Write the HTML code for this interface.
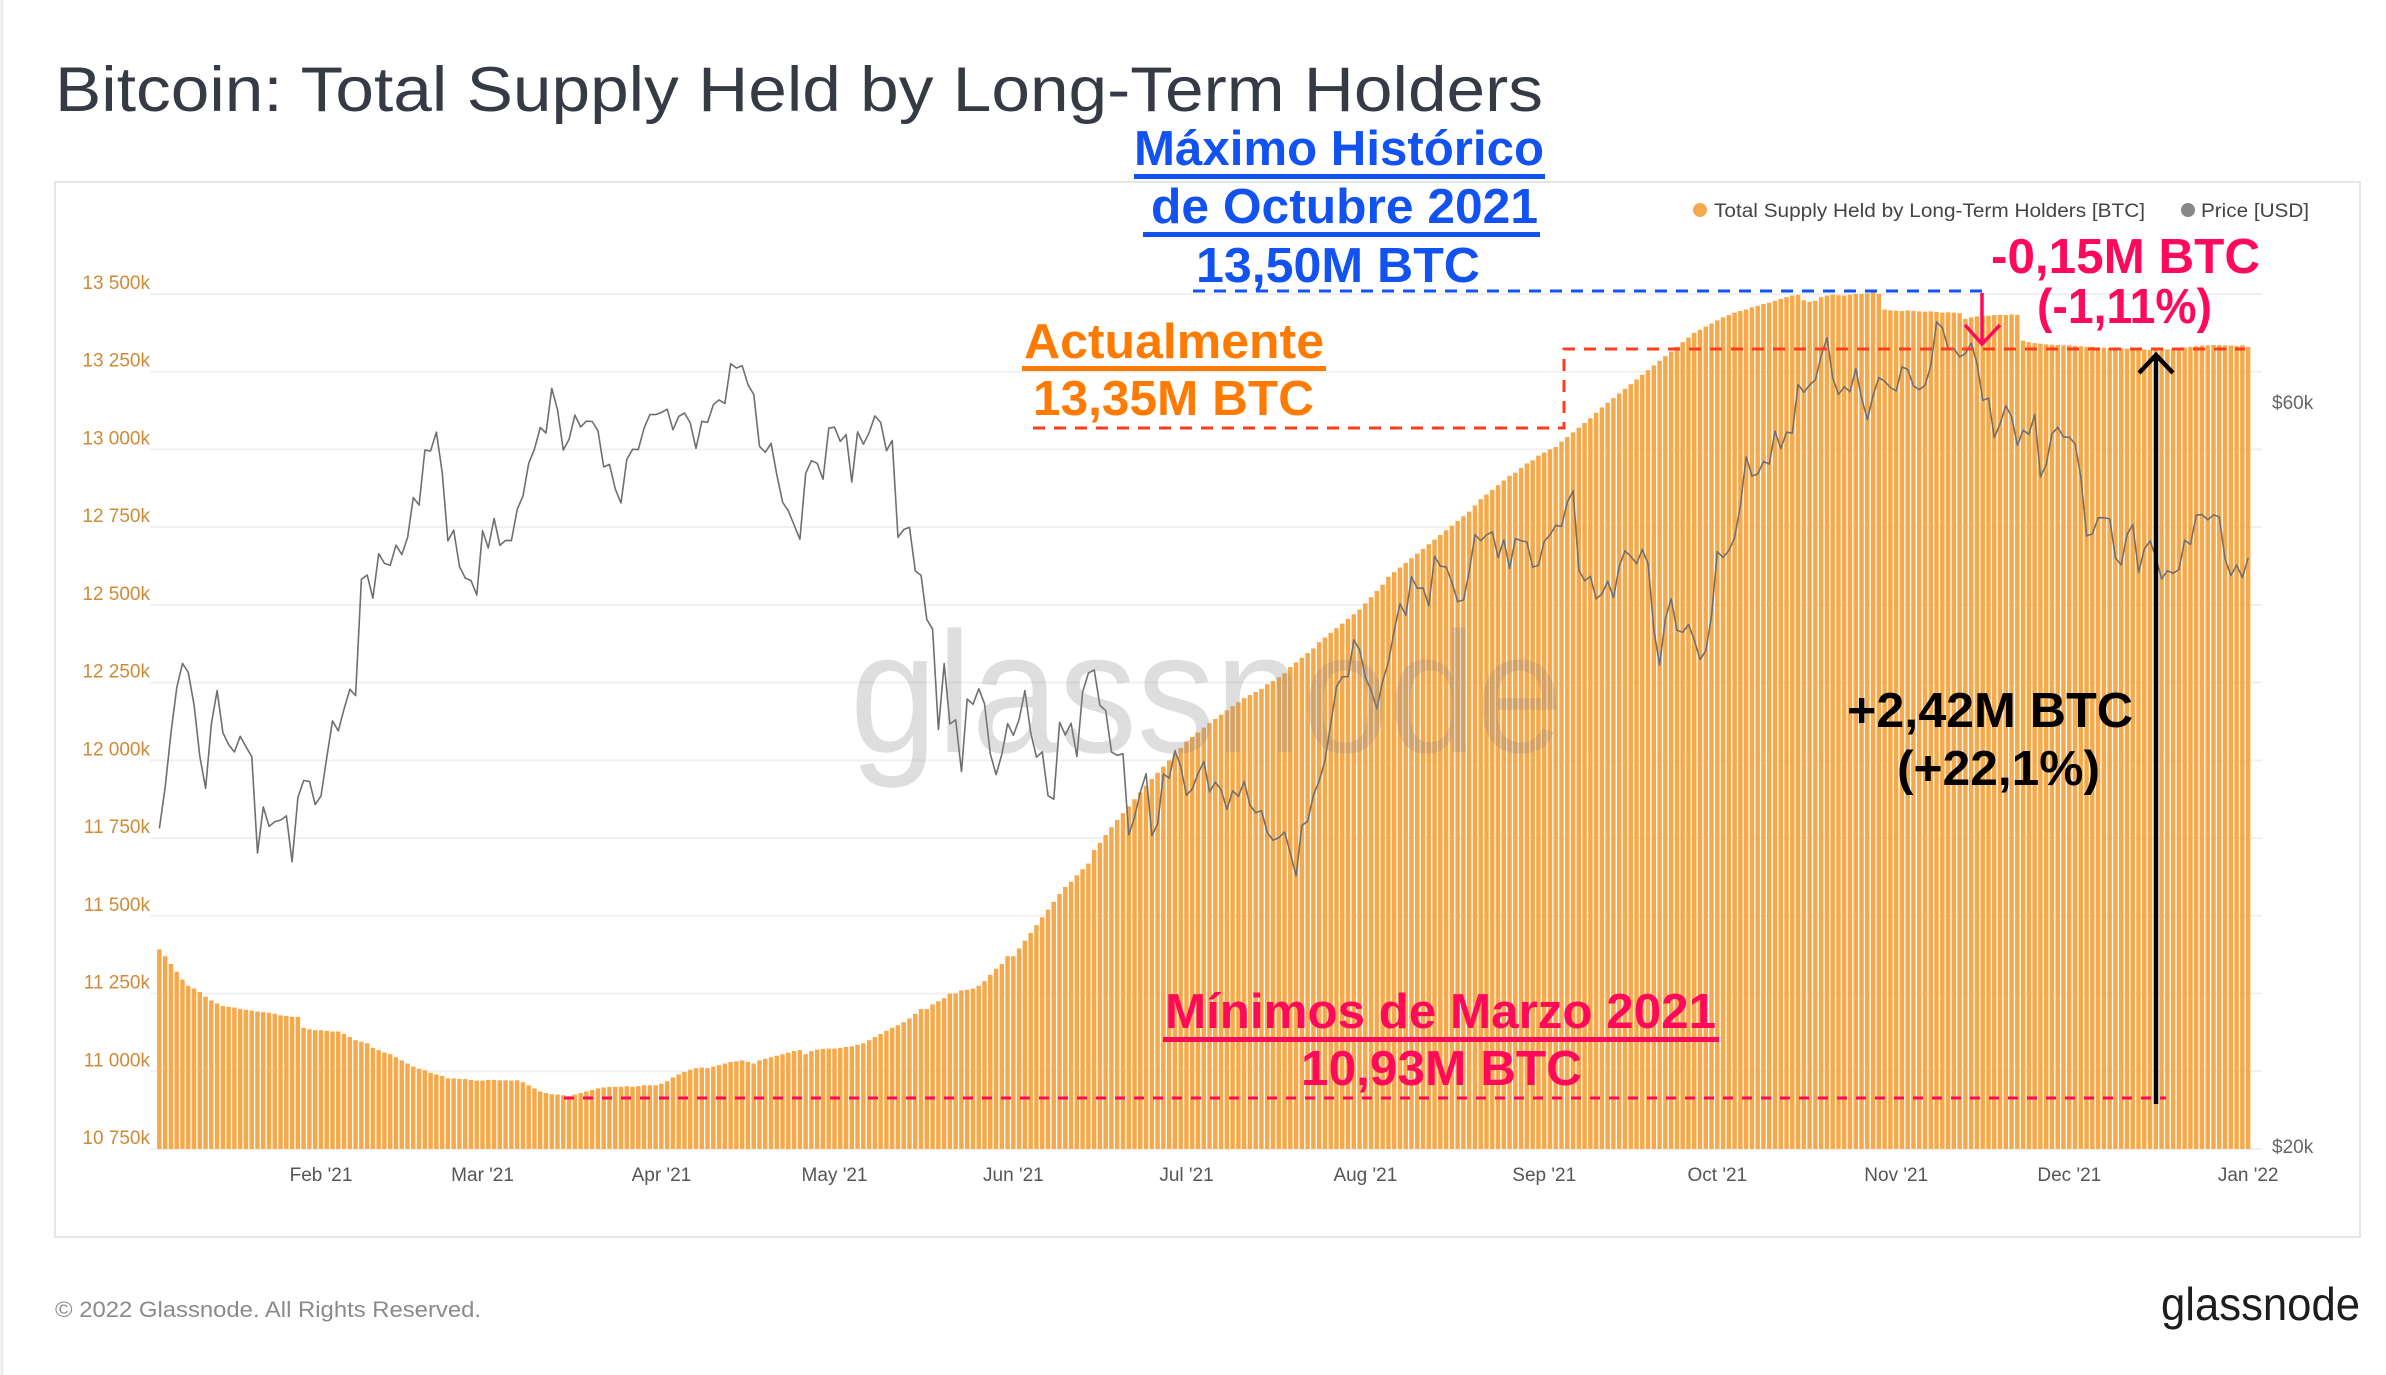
<!DOCTYPE html>
<html><head><meta charset="utf-8">
<style>
html,body{margin:0;padding:0;background:#fff;}
svg{display:block;font-family:"Liberation Sans",sans-serif;}
</style></head>
<body>
<svg id="chart" width="2386" height="1375" viewBox="0 0 2386 1375" xmlns="http://www.w3.org/2000/svg">
<rect x="0" y="0" width="2386" height="1375" fill="#fff"/>
<line x1="2" y1="0" x2="2" y2="1375" stroke="#ececec" stroke-width="3"/>
<text x="55" y="111" font-size="63" fill="#353a45" textLength="1488" lengthAdjust="spacingAndGlyphs">Bitcoin: Total Supply Held by Long-Term Holders</text>
<rect x="55" y="182" width="2305" height="1055" fill="none" stroke="#e6e6e6" stroke-width="2"/>
<g id="grid"></g>
<g id="bars"></g>
<g id="price"></g>
<g id="axes"></g>
<text x="850" y="752" font-size="172" fill="#8a8a8a" fill-opacity="0.28" textLength="713" lengthAdjust="spacingAndGlyphs">glassnode</text>

<g>
<circle cx="1700" cy="210" r="7" fill="#f6a94b"/>
<text x="1714" y="217" font-size="19" fill="#444" textLength="431" lengthAdjust="spacingAndGlyphs">Total Supply Held by Long-Term Holders [BTC]</text>
<circle cx="2188" cy="210" r="7" fill="#888"/>
<text x="2201" y="217" font-size="19" fill="#444" textLength="108" lengthAdjust="spacingAndGlyphs">Price [USD]</text>
</g>

<g font-weight="bold" fill="#1152f0">
<text x="1134" y="165" font-size="49" textLength="410" lengthAdjust="spacingAndGlyphs">Máximo Histórico</text>
<rect x="1134" y="174" width="411" height="5"/>
<text x="1151" y="223" font-size="49" textLength="387" lengthAdjust="spacingAndGlyphs">de Octubre 2021</text>
<rect x="1143" y="232" width="397" height="5"/>
<text x="1196" y="282" font-size="49" textLength="284" lengthAdjust="spacingAndGlyphs">13,50M BTC</text>
</g>
<line x1="1193" y1="291" x2="1985" y2="291" stroke="#1152f0" stroke-width="3" stroke-dasharray="12,9"/>

<g font-weight="bold" fill="#ff7a00">
<text x="1024" y="358" font-size="49" textLength="300" lengthAdjust="spacingAndGlyphs">Actualmente</text>
<rect x="1022" y="366" width="304" height="5"/>
<text x="1033" y="415" font-size="49" textLength="281" lengthAdjust="spacingAndGlyphs">13,35M BTC</text>
</g>
<path d="M1033 428 H1564 V349 H2245" fill="none" stroke="#ff3d1f" stroke-width="3" stroke-dasharray="12,9"/>

<g font-weight="bold" fill="#ff0a5a">
<text x="1991" y="273" font-size="49" textLength="269" lengthAdjust="spacingAndGlyphs">-0,15M BTC</text>
<text x="2037" y="323" font-size="49" textLength="175" lengthAdjust="spacingAndGlyphs">(-1,11%)</text>
</g>
<path d="M1982 293 V344 M1965 325 L1982 344 L2000 325" fill="none" stroke="#ff0a5a" stroke-width="3.5"/>

<path d="M2156 1104 V355 M2139 373 L2156 355 L2173 373" fill="none" stroke="#000" stroke-width="4.5"/>
<g font-weight="bold" fill="#000">
<text x="1847" y="727" font-size="49" textLength="286" lengthAdjust="spacingAndGlyphs">+2,42M BTC</text>
<text x="1897" y="785" font-size="49" textLength="203" lengthAdjust="spacingAndGlyphs">(+22,1%)</text>
</g>

<line x1="564" y1="1098" x2="2166" y2="1098" stroke="#ff0a5a" stroke-width="3" stroke-dasharray="10,9"/>
<g font-weight="bold" fill="#ff0a5a">
<text x="1165" y="1028" font-size="49" textLength="551" lengthAdjust="spacingAndGlyphs">Mínimos de Marzo 2021</text>
<rect x="1163" y="1037" width="556" height="5"/>
<text x="1301" y="1085" font-size="49" textLength="281" lengthAdjust="spacingAndGlyphs">10,93M BTC</text>
</g>

<text x="55" y="1317" font-size="22" fill="#8a8a8a" textLength="426" lengthAdjust="spacingAndGlyphs">© 2022 Glassnode. All Rights Reserved.</text>
<text x="2161" y="1320" font-size="46" fill="#1d1d1d" textLength="199" lengthAdjust="spacingAndGlyphs">glassnode</text>
</svg>
<script>
const startDay = 3;
const lthSupplyK = [
11392,11370,11345,11320,11295,11275,11266,11255,11240,11228,11218,11210,11207,11205,11200,11198,11195,11192,11190,11188,11185,11180,11178,11175,11175,11140,11135,11132,
11132,11130,11128,11128,11120,11110,11100,11095,11090,11075,11068,11060,11055,11045,11035,11025,11015,11008,11003,10995,10990,10985,10977,10977,10975,10975,10972,10970,
10970,10972,10972,10971,10971,10970,10971,10965,10955,10945,10935,10930,10926,10925,10923,10920,10925,10930,10935,10940,10945,10948,10950,10950,10950,10952,10950,10952,10955,10955,10955,
10960,10968,10980,10990,10998,11005,11010,11012,11010,11015,11020,11025,11030,11032,11035,11030,11025,11035,11040,11045,11050,11055,11060,11065,11068,11055,11065,11070,11072,11073,
11073,11075,11078,11080,11085,11090,11100,11110,11120,11130,11140,11148,11158,11170,11185,11200,11200,11215,11225,11235,11250,11250,11260,11262,11266,11275,11290,11310,11330,11345,11370,
11370,11395,11420,11445,11470,11495,11520,11545,11570,11593,11610,11630,11650,11668,11712,11735,11760,11785,11808,11830,11852,11875,11897,11918,11940,11960,11980,12000,12020,12040,
12060,12075,12090,12105,12120,12133,12147,12161,12174,12187,12200,12210,12220,12230,12245,12255,12267,12280,12300,12315,12330,12345,12360,12380,12395,12410,12425,12440,12455,12470,12485,
12505,12525,12545,12565,12590,12605,12620,12635,12650,12665,12680,12695,12710,12725,12740,12755,12770,12785,12800,12820,12840,12855,12870,12885,12900,12915,12925,12940,12955,12965,12980,
12990,13000,13008,13025,13040,13055,13070,13085,13100,13118,13135,13150,13165,13180,13195,13210,13225,13240,13255,13270,13285,13300,13315,13330,13345,13360,13375,13385,13395,13405,
13415,13425,13432,13440,13445,13450,13457,13462,13468,13472,13478,13484,13490,13495,13497,13480,13475,13478,13490,13495,13498,13496,13495,13498,13500,13500,13502,13505,13500,13450,13447,
13446,13445,13447,13446,13444,13443,13444,13442,13440,13441,13440,13438,13420,13425,13428,13430,13430,13432,13433,13432,13434,13433,13350,13345,13342,13340,13338,13337,13336,13335,
13335,13333,13332,13330,13330,13328,13327,13326,13325,13325,13324,13323,13322,13322,13320,13320,13321,13322,13324,13326,13328,13330,13332,13334,13335,13336,13336,13335,13334,13333,13335,
13330];
const priceUsd = [
31971,33992,36824,39371,40797,40254,38356,35566,33922,37316,39187,36825,36178,35792,36630,36069,35547,30825,33005,32067,32289,32366,32569,30432,33466,34316,34269,33114,
33537,35510,37472,36926,38144,39266,38903,46196,46481,44919,47969,47287,47153,48577,47911,49133,52119,51552,55906,55841,57412,54087,48891,49676,47073,46276,46106,45135,
49631,48378,50538,48561,48927,48912,51206,52246,54824,56008,57805,57332,61243,59302,55907,56804,58870,57858,58346,58313,57523,54529,54738,52774,51705,55137,55974,55947,57750,58917,58918,
59095,59384,57604,58758,59057,58192,56048,58323,58245,59793,60204,59893,63503,63109,63314,61572,60683,56216,55724,56473,53906,51762,51093,50050,49004,54021,55033,54824,53555,57750,
57828,56631,57200,53333,57424,56397,57356,58803,58232,55859,56704,49150,49716,49880,46760,46456,43537,42909,37002,40782,37304,37536,34770,38705,38402,39294,38436,35697,34616,35678,37332,
36684,37575,39187,36825,35520,35796,33552,33380,37389,36702,37334,35552,39097,40218,40406,38347,38053,35787,35615,35698,31676,32505,33723,34662,31637,32186,34649,34434,35867,35041,
33572,33897,34668,35287,33746,34235,33855,32877,33798,33520,34259,33086,32729,32820,31781,31421,31533,31796,30817,29807,32110,32313,33581,34292,35350,37337,39406,39995,40008,42235,41626,
39974,39201,38152,39747,40869,42816,44555,43798,46365,45585,45593,44428,47793,47096,47047,46004,44695,44801,46717,49339,48905,49321,49546,47706,48960,46942,49058,48897,48807,47025,47166,
48848,49327,50025,49944,51753,52633,46811,46091,46391,44883,45201,46063,44963,47092,48176,47783,47268,48278,47260,42844,40694,43574,44896,42840,42716,43208,42236,41034,41564,43790,
48116,47711,48199,49112,51515,55362,53805,53968,54969,54772,57485,56041,57401,57322,61593,60892,61553,62026,64262,65993,62210,60693,61394,60931,63039,60364,58482,60622,62228,61888,61319,
61004,63227,62970,61453,61125,61528,63327,67567,66972,64996,64950,64156,64470,65466,63557,60161,60368,56942,58120,59697,58731,56289,57570,57229,58933,53727,54722,57275,57807,57006,
56981,56420,53739,49252,49398,50584,50595,50505,47673,47185,49336,50090,46656,48299,48886,47688,46217,46773,46612,46862,48936,48628,50784,50822,50429,50809,50640,47588,46444,47178,46306,
47686];
const leftTicks = [10750,11000,11250,11500,11750,12000,12250,12500,12750,13000,13250,13500];
const leftTickLabels = ["10 750k","11 000k","11 250k","11 500k","11 750k","12 000k","12 250k","12 500k","12 750k","13 000k","13 250k","13 500k"];
const rightTicks = [20000,60000];
const rightTickLabels = ["$20k","$60k"];
const monthTickDays = [31,59,90,120,151,181,212,243,273,304,334,365];
const monthTickLabels = ["Feb '21","Mar '21","Apr '21","May '21","Jun '21","Jul '21","Aug '21","Sep '21","Oct '21","Nov '21","Dec '21","Jan '22"];

const NS = "http://www.w3.org/2000/svg";
const X0 = 321, D0 = 31, DAYPX = 5.77;
const xDay = d => X0 + (d - D0) * DAYPX;
const yLeft = v => 1149 - (v - 10750) / 250 * 77.73;
const yPrice = p => 1146 - Math.log(p / 20000) * 677;
const plotL = 150, plotR = 2262;

function mk(tag, attrs, parent){ const e=document.createElementNS(NS,tag); for(const k in attrs) e.setAttribute(k,attrs[k]); parent.appendChild(e); return e; }

const grid = document.getElementById('grid');
const axes = document.getElementById('axes');
leftTicks.forEach((v,i)=>{
  const y = yLeft(v);
  const g = mk('line',{x1:plotL,x2:plotR,y1:y,y2:y,stroke:'#f0f0f0','stroke-width':2},grid);
  
  
  const t = mk('text',{x:150,y:y-5,'text-anchor':'end','font-size':19,fill:'#d08a35'},axes);
  t.textContent = leftTickLabels[i];
  
  
});
rightTicks.forEach((p,i)=>{
  const t = mk('text',{x:2272,y:yPrice(p)+7,'font-size':19,fill:'#666'},axes);
  t.textContent = rightTickLabels[i];
  
  
});
monthTickDays.forEach((d,i)=>{
  const x = xDay(d);
  const t = mk('text',{x:x,y:1181,'text-anchor':'middle','font-size':19,fill:'#555'},axes);
  t.textContent = monthTickLabels[i];
  
  
});

const bars = document.getElementById('bars');
const base = yLeft(10750);
lthSupplyK.forEach((v,i)=>{
  const d = startDay + i;
  const x = xDay(d) - DAYPX/2 + 0.6;
  const y = yLeft(v);
  const r = mk('rect',{x:x,y:y,width:DAYPX-1.3,height:Math.max(0,base-y),fill:'#f6a94b'},bars);
  
  
});

const pg = document.getElementById('price');
let dstr = '';
priceUsd.forEach((p,i)=>{
  const d = startDay + i;
  dstr += (i? 'L':'M') + xDay(d).toFixed(1) + ' ' + yPrice(p).toFixed(1) + ' ';
});
const pl = mk('path',{d:dstr,fill:'none',stroke:'#6f6f6f','stroke-width':1.6,'stroke-linejoin':'round'},pg);


</script>
</body></html>
